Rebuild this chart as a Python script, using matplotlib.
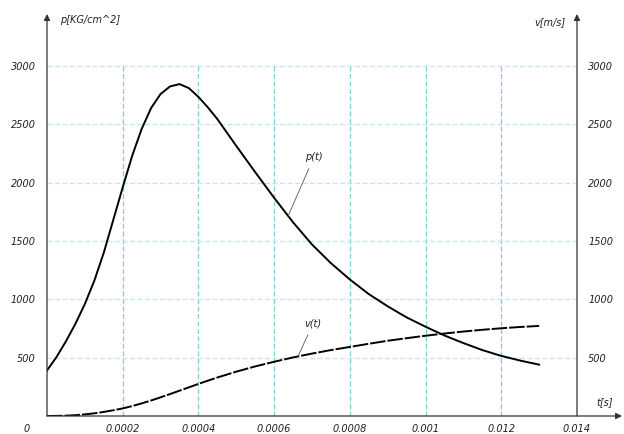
import numpy as np
import matplotlib.pyplot as plt

# -----------------------------
# data
# -----------------------------
t = [0, 0.000025, 0.00005, 0.000075, 0.0001, 0.000125, 0.00015, 0.000175,
     0.0002, 0.000225, 0.00025, 0.000275, 0.0003, 0.000325, 0.00035, 0.000375,
     0.0004, 0.000425, 0.00045, 0.000475, 0.0005, 0.00055, 0.0006, 0.00065,
     0.0007, 0.00075, 0.0008, 0.00085, 0.0009, 0.00095, 0.001, 0.00105,
     0.0011, 0.00115, 0.0012, 0.00125, 0.0013]
p = [390, 505, 640, 790, 960, 1160, 1400, 1680,
     1960, 2230, 2460, 2640, 2760, 2825, 2845, 2810,
     2735, 2645, 2545, 2430, 2315, 2090, 1870, 1660,
     1470, 1310, 1170, 1045, 940, 845, 765, 690,
     625, 565, 515, 475, 440]
v = [0, 1, 3, 7, 14, 23, 35, 49,
     65, 85, 108, 133, 160, 188, 217, 246,
     275, 303, 330, 355, 380, 425, 465, 502,
     535, 565, 592, 619, 645, 667, 688, 707,
     724, 739, 752, 763, 772]

y_ticks = [500, 1000, 1500, 2000, 2500, 3000]
x_ticks = [0.0002, 0.0004, 0.0006, 0.0008, 0.001, 0.0012, 0.0014]
x_tick_labels = ['0.0002', '0.0004', '0.0006', '0.0008', '0.001', '0.012', '0.014']

# -----------------------------
# figure / axes
# -----------------------------
W, H = 624, 434
fig = plt.figure(figsize=(W / 100, H / 100), dpi=100)
ax = fig.add_axes([47 / W, 18 / H, 530 / W, 402 / H])
ax.set_xlim(0, 0.0014)
ax.set_ylim(0, 402 / (350 / 3000))
for s in ax.spines.values():
    s.set_visible(False)

font = dict(style='italic', size=7, color='#222222')

# grid
for x in x_ticks[:-1]:
    ax.plot([x, x], [0, 3000], color='#7fcfdc', lw=0.9, ls=(0, (4, 2)), snap=True)
for y in y_ticks:
    ax.plot([0, 0.0014], [y, y], color='#c0e6ec', lw=0.9, ls=(0, (4, 2)), snap=True)

# curves
ax.plot(t, p, color='black', lw=1.4, solid_joinstyle='round')
ax.plot(t, v, color='black', lw=1.4, ls=(0, (8, 1)))

# ticks
ax.set_yticks(y_ticks)
ax.set_yticklabels([str(y) for y in y_ticks], **font)
ax.tick_params(axis='y', length=0, pad=8, labelright=True)
for lab in ax.get_yticklabels(which='both'):
    lab.set_style('italic')
ax.set_xticks(x_ticks)
ax.set_xticklabels(x_tick_labels, **font)
ax.tick_params(axis='x', length=0, pad=6)
ax.tick_params(axis='y', which='major', labelsize=7, labelcolor='#222222')
ax.text(-20 / 530, -8 / 402, '0', transform=ax.transAxes, ha='center', va='top', **font)

# axes with arrows
arrow = dict(arrowstyle='-|>', color='#333333', lw=0.9, mutation_scale=9, shrinkA=0, shrinkB=0)
ax.annotate('', xy=(0, 1), xytext=(0, 0), xycoords='axes fraction', arrowprops=arrow)
ax.annotate('', xy=(1, 1), xytext=(1, 0), xycoords='axes fraction', arrowprops=arrow)
ax.annotate('', xy=(1 + 45 / 530, 0), xytext=(0, 0), xycoords='axes fraction', arrowprops=arrow)

ax.text(13 / 530, 1 - 6 / 402, 'p[KG/cm^2]', transform=ax.transAxes, ha='left', va='center', **font)
ax.text(1 - 12 / 530, 1 - 8 / 402, 'v[m/s]', transform=ax.transAxes, ha='right', va='center', **font)
ax.text(1 + 28 / 530, 14 / 402, 't[s]', transform=ax.transAxes, ha='center', va='center', **font)

# curve labels with leader lines
tp, tv = 0.000637, 0.000663
ax.annotate('p(t)', xy=(tp, np.interp(tp, t, p)), xytext=(0.000705, 2220),
            ha='center', va='center', **font,
            arrowprops=dict(arrowstyle='-', color='#555555', lw=0.6, shrinkA=3, shrinkB=0))
ax.annotate('v(t)', xy=(tv, np.interp(tv, t, v)), xytext=(0.000703, 795),
            ha='center', va='center', **font,
            arrowprops=dict(arrowstyle='-', color='#555555', lw=0.6, shrinkA=3, shrinkB=0))

plt.savefig('out.png', dpi=100)
